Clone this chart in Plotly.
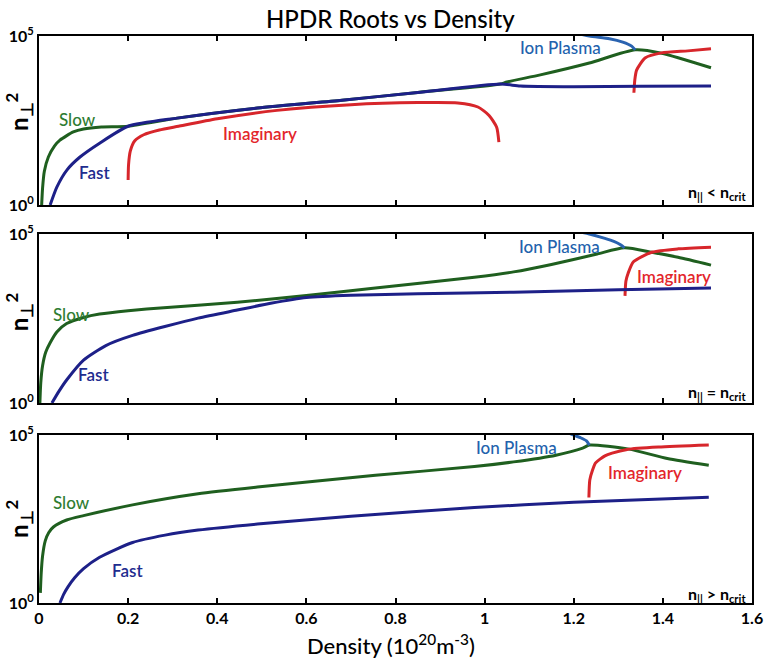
import plotly.graph_objects as go

# ---------------- data (density in 1e20 m^-3, n_perp^2) ----------------
ticks_x = [0, 0.2, 0.4, 0.6, 0.8, 1.0, 1.2, 1.4, 1.6]
ticks_x_text = ["0", "0.2", "0.4", "0.6", "0.8", "1", "1.2", "1.4", "1.6"]

# Panel 1: n_par < n_crit
slow_lt_x = [0.006, 0.008, 0.012, 0.021, 0.035, 0.047, 0.077, 0.1, 0.14, 0.2, 0.31, 0.49, 0.68, 0.85, 1.036, 1.05, 1.125, 1.235, 1.338, 1.397, 1.508]
slow_lt_y = [1, 3.16, 10, 26.3, 56.2, 83.2, 145, 178, 204, 214, 372, 741, 1259, 2138, 3802, 4365, 7079, 15849, 38905, 30903, 11482]
fast_lt_x = [0.025, 0.04, 0.063, 0.092, 0.136, 0.2, 0.31, 0.49, 0.68, 0.85, 1.036, 1.08, 1.2, 1.35, 1.508]
fast_lt_y = [1, 3.39, 11, 26.3, 67.6, 214, 372, 741, 1259, 2138, 3802, 3311, 3162, 3236, 3311]
ion_lt_x = [1.2, 1.235, 1.28, 1.31, 1.33, 1.338]
ion_lt_y = [125893, 100000, 83176, 66069, 50119, 38905]
imag_lt_a_x = [0.2, 0.201, 0.205, 0.215, 0.235, 0.27, 0.313, 0.4, 0.534, 0.7, 0.85, 0.94, 0.985, 1.01, 1.027, 1.032]
imag_lt_a_y = [5.5, 15.8, 39.8, 79.4, 120, 166, 214, 355, 631, 933, 1072, 1047, 794, 447, 200, 72.4]
imag_lt_b_x = [1.335, 1.337, 1.341, 1.36, 1.397, 1.456, 1.508]
imag_lt_b_y = [2089, 5012, 9772, 22387, 31623, 36308, 41687]

# Panel 2: n_par = n_crit
slow_eq_x = [0.002, 0.004, 0.008, 0.015, 0.025, 0.04, 0.062, 0.1, 0.136, 0.2, 0.28, 0.445, 0.6, 0.755, 0.977, 1.065, 1.15, 1.25, 1.314, 1.375, 1.434, 1.508]
slow_eq_y = [1, 3.98, 12.6, 31.6, 60.3, 126, 224, 339, 427, 537, 661, 955, 1514, 2512, 5248, 7586, 12589, 25119, 38905, 28840, 20417, 12023]
fast_eq_x = [0.029, 0.045, 0.062, 0.1, 0.15, 0.21, 0.357, 0.445, 0.52, 0.6, 0.7, 0.85, 1.065, 1.3, 1.508]
fast_eq_y = [1, 2.24, 4.79, 18.6, 50, 100, 324, 562, 891, 1318, 1549, 1698, 1905, 2239, 2512]
ion_eq_x = [1.2, 1.235, 1.27, 1.29, 1.305, 1.314]
ion_eq_y = [125893, 100000, 74131, 60256, 47863, 38905]
imag_eq_x = [1.315, 1.317, 1.322, 1.334, 1.375, 1.434, 1.508]
imag_eq_y = [1479, 3981, 6918, 15136, 28840, 36308, 40738]

# Panel 3: n_par > n_crit
slow_gt_x = [0.003, 0.005, 0.008, 0.014, 0.022, 0.033, 0.062, 0.1, 0.21, 0.357, 0.49, 0.755, 0.977, 1.065, 1.16, 1.22, 1.235, 1.324, 1.41, 1.503]
slow_gt_y = [2, 7.94, 25.1, 70.8, 126, 186, 295, 398, 832, 1778, 2818, 6310, 11482, 15849, 25119, 40738, 50119, 38019, 19953, 12589]
fast_gt_x = [0.047, 0.055, 0.065, 0.08, 0.1, 0.136, 0.21, 0.283, 0.357, 0.49, 0.7, 0.977, 1.2, 1.503]
fast_gt_y = [1, 1.78, 3.02, 5.62, 10.5, 22.9, 63.1, 104.7, 148, 224, 380, 692, 1000, 1413]
ion_gt_x = [1.18, 1.2, 1.215, 1.228, 1.235]
ion_gt_y = [125893, 100000, 83176, 67608, 50119]
imag_gt_x = [1.234, 1.236, 1.242, 1.249, 1.27, 1.286, 1.32, 1.39, 1.503]
imag_gt_y = [1380, 4571, 8913, 14791, 23988, 28840, 37154, 43652, 50119]

# ---------------- styles ----------------
C_SLOW = "#1f5f1f"
C_FAST = "#1d2088"
C_IMAG = "#d7262b"
C_ION = "#2a63b0"
T_SLOW = "#2f7d32"
T_FAST = "#1f2d8f"
T_IMAG = "#e3262b"
T_ION = "#2262ad"
FONT = "Lato"
LW = 3

fig = go.Figure()

panels = [
    ("", slow_lt_x, slow_lt_y, fast_lt_x, fast_lt_y, ion_lt_x, ion_lt_y,
     imag_lt_a_x + [None] + imag_lt_b_x, imag_lt_a_y + [None] + imag_lt_b_y),
    ("2", slow_eq_x, slow_eq_y, fast_eq_x, fast_eq_y, ion_eq_x, ion_eq_y, imag_eq_x, imag_eq_y),
    ("3", slow_gt_x, slow_gt_y, fast_gt_x, fast_gt_y, ion_gt_x, ion_gt_y, imag_gt_x, imag_gt_y),
]

for suf, sx, sy, fx, fy, ix, iy, mx, my in panels:
    xa, ya = "x" + suf, "y" + suf
    for xs, ys, col in [(sx, sy, C_SLOW), (ix, iy, C_ION), (mx, my, C_IMAG), (fx, fy, C_FAST)]:
        fig.add_trace(go.Scatter(x=xs, y=ys, mode="lines", xaxis=xa, yaxis=ya,
                                 line=dict(color=col, width=LW, shape="spline", smoothing=0.6),
                                 connectgaps=False, showlegend=False, hoverinfo="skip"))

domains = [[0.7019, 1.0], [0.3527, 0.6508], [0.0, 0.2963]]

axis_common_x = dict(range=[0, 1.6], tickmode="array", tickvals=ticks_x, ticktext=ticks_x_text,
                     ticks="inside", ticklen=5, tickwidth=1.5, tickcolor="black",
                     showline=True, linecolor="black", linewidth=2, mirror="ticks",
                     showgrid=False, zeroline=False, ticklabeloverflow="allow",
                     tickfont=dict(family=FONT, size=16, color="black", weight="bold"))
axis_common_y = dict(type="log", range=[0, 5], tickmode="array", tickvals=[1, 100000],
                     ticktext=["10<sup>0</sup>", "10<sup>5</sup>"], ticks="",
                     showline=True, linecolor="black", linewidth=2, mirror=True,
                     showgrid=False, zeroline=False,
                     tickfont=dict(family=FONT, size=16, color="black", weight="bold"))

layout = dict(width=767, height=667, margin=dict(l=39, r=4, t=36, b=64),
              paper_bgcolor="white", plot_bgcolor="white", showlegend=False)
for i, suf in enumerate(["", "2", "3"]):
    xk = "xaxis" + suf
    yk = "yaxis" + suf
    xd = dict(axis_common_x, domain=[0, 1], anchor="y" + suf)
    if suf != "3":
        xd["showticklabels"] = False
    layout[xk] = xd
    layout[yk] = dict(axis_common_y, domain=domains[i], anchor="x" + suf)
fig.update_layout(**layout)

ann = []
def lab(text, x, y, color, suf, size=17, xanchor="center", weight=500):
    ann.append(dict(text=text, x=x, y=y, xref="x" + suf, yref="y" + suf, showarrow=False,
                    xanchor=xanchor, yanchor="middle",
                    font=dict(family=FONT, size=size, color=color, weight=weight)))

# Panel 1
lab("Slow", 0.087, 2.54, T_SLOW, "")
lab("Fast", 0.125, 0.95, T_FAST, "", weight=600)
lab("Imaginary", 0.497, 2.13, T_IMAG, "", weight=600)
lab("Ion Plasma", 1.171, 4.67, T_ION, "")
lab("n<sub>||</sub> &lt; n<sub>crit</sub>", 1.592, 0.36, "black", "", size=16, xanchor="right", weight="bold")
# Panel 2
lab("Slow", 0.074, 2.63, T_SLOW, "2")
lab("Fast", 0.123, 0.83, T_FAST, "2", weight=600)
lab("Ion Plasma", 1.167, 4.62, T_ION, "2")
lab("Imaginary", 1.426, 3.73, T_IMAG, "2", weight=600)
lab("n<sub>||</sub> = n<sub>crit</sub>", 1.592, 0.30, "black", "2", size=16, xanchor="right", weight="bold")
# Panel 3
lab("Slow", 0.072, 2.98, T_SLOW, "3")
lab("Fast", 0.198, 0.98, T_FAST, "3", weight=600)
lab("Ion Plasma", 1.072, 4.64, T_ION, "3")
lab("Imaginary", 1.359, 3.87, T_IMAG, "3", weight=600)
lab("n<sub>||</sub> &gt; n<sub>crit</sub>", 1.592, 0.24, "black", "3", size=16, xanchor="right", weight="bold")

# y labels
for yv in [0.866, 0.513, 0.148]:
    ann.append(dict(text="n<sub>⊥</sub><sup>2</sup>", x=0, y=yv, xref="paper", yref="paper",
                    xshift=-20, showarrow=False, textangle=-90, xanchor="center", yanchor="middle",
                    font=dict(family=FONT, size=24, color="black", weight="bold")))
# title
ann.append(dict(text="HPDR Roots vs Density", x=0.493, y=1.0317, xref="paper", yref="paper",
                showarrow=False, xanchor="center", yanchor="middle",
                font=dict(family=FONT, size=24, color="black", weight=500)))
# x title
ann.append(dict(text="Density (10<sup>20</sup>m<sup>-3</sup>)", x=0.494, y=-0.074, xref="paper", yref="paper",
                showarrow=False, xanchor="center", yanchor="middle",
                font=dict(family=FONT, size=22, color="black", weight=500)))
fig.update_layout(annotations=ann)

fig.write_html("out.html")
